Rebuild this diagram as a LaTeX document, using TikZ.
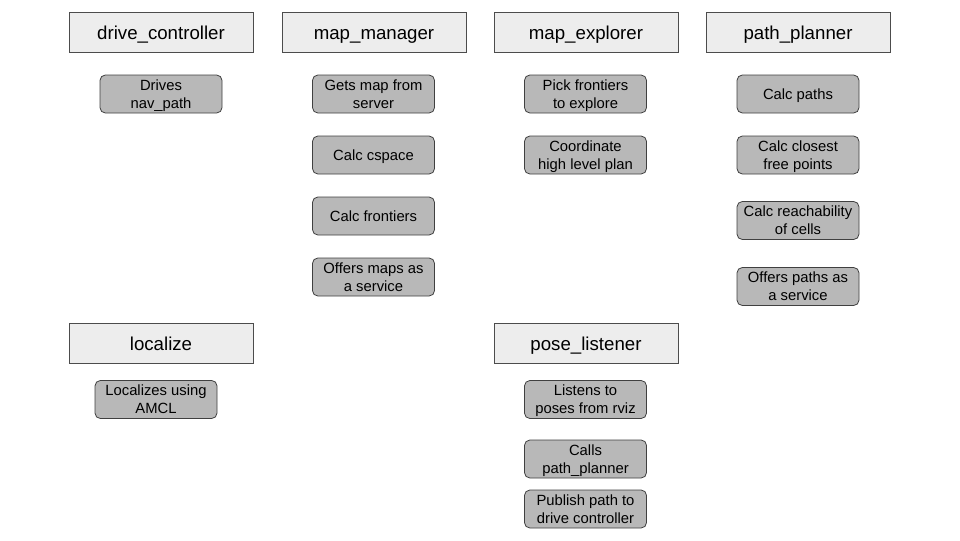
\documentclass[tikz,border=0pt]{standalone}
\usepackage{fontspec}
\setmainfont{Liberation Sans}
\newcommand\sx{\rule[-0.28em]{0pt}{1.28em}}
\newcommand\taskfont{\fontsize{11.1}{13.5}\selectfont\lineskiplimit-20pt\relax}
\begin{document}
\begin{tikzpicture}[x=0.75pt,y=-0.75pt,
  header/.style={draw=black!70, fill=black!7, line width=0.6pt, minimum width=184*0.75pt, minimum height=40*0.75pt, inner sep=0pt, text height=13pt, text depth=1.9pt, font=\fontsize{14}{16}\selectfont},
  task/.style={draw=black!75, fill=black!28, line width=0.6pt, rounded corners=4pt, minimum width=122*0.75pt, minimum height=38*0.75pt, inner sep=0pt, align=center, font=\taskfont}]
\useasboundingbox (0,0) rectangle (960,540);
\node[header] (dc) at (161,32) {drive\_controller};
\node[header] (mm) at (374,32) {map\_manager};
\node[header] (me) at (586,32) {map\_explorer};
\node[header] (pp) at (798,32) {path\_planner};
\node[header] (lo) at (161,343.5) {localize};
\node[header] (pl) at (586,343.5) {pose\_listener};
\node[task] (dc1) at (161,94) {\sx Drives\\\sx nav\_path};
\node[task] (mm1) at (373.5,94) {\sx Gets map from\\\sx server};
\node[task] (mm2) at (373.5,155) {\sx Calc cspace};
\node[task] (mm3) at (373.5,216) {\sx Calc frontiers};
\node[task] (mm4) at (373.5,277) {\sx Offers maps as\\\sx a service};
\node[task] (me1) at (585.5,94) {\sx Pick frontiers\\\sx to explore};
\node[task] (me2) at (585.5,155) {\sx Coordinate\\\sx high level plan};
\node[task] (pp1) at (798,94) {\sx Calc paths};
\node[task] (pp2) at (798,155) {\sx Calc closest\\\sx free points};
\node[task] (pp3) at (798,220.5) {\sx Calc reachability\\\sx of cells};
\node[task] (pp4) at (798,286.5) {\sx Offers paths as\\\sx a service};
\node[task] (lo1) at (156,399.5) {\sx Localizes using\\\sx AMCL};
\node[task] (pl1) at (585.5,399.5) {\sx Listens to\\\sx poses from rviz};
\node[task] (pl2) at (585.5,459) {\sx Calls\\\sx path\_planner};
\node[task] (pl3) at (585.5,509) {\sx Publish path to\\\sx drive controller};
\end{tikzpicture}
\end{document}
